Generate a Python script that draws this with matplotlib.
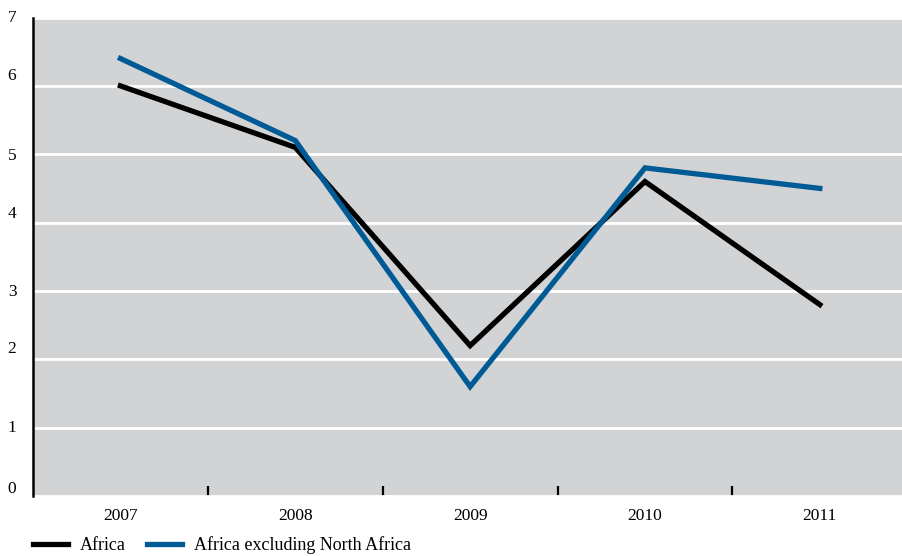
import numpy as np
import matplotlib
matplotlib.use('Agg')
import matplotlib.pyplot as plt
from matplotlib.transforms import ScaledTranslation

years = ["2007", "2008", "2009", "2010", "2011"]
africa = [6.0, 5.1, 2.2, 4.6, 2.8]
africa_ex_north = [6.4, 5.2, 1.6, 4.8, 4.5]
y_ticks = [0, 1, 2, 3, 4, 5, 6, 7]

plt.rcParams['font.family'] = ['Liberation Serif', 'DejaVu Serif']

fig = plt.figure(figsize=(9.02, 5.56), dpi=100)
ax = fig.add_axes([33 / 902, 1 - 496 / 556, 1 - 33 / 902, (496 - 17.5) / 556])
ax.set_facecolor("#d2d3d5")

x = np.arange(len(years))
ax.plot(x, africa, color="black", linewidth=3.8, label="Africa", solid_joinstyle="miter")
ax.plot(x, africa_ex_north, color="#005a96", linewidth=3.8,
        label="Africa excluding North Africa", solid_joinstyle="miter")

ax.set_ylim(0, 7)
ax.set_xlim(-0.5, len(years) - 0.53)
ax.set_yticks(y_ticks)
ax.set_yticklabels([str(v) for v in y_ticks])
ax.grid(True, axis="y", color="white", linewidth=2)
ax.set_axisbelow(True)

# year labels centred on categories, tick marks between them
ax.set_xticks(x)
ax.set_xticklabels(years)
ax.set_xticks(x[:-1] + 0.5, minor=True)
ax.tick_params(axis="x", which="major", length=0, pad=9, labelsize=12.5)
ax.tick_params(axis="x", which="minor", direction="in", length=7, width=1.6, color="black")
ax.tick_params(axis="y", length=0, pad=12, labelsize=12.5)

# y labels sit a bit uneven in the original
offsets = [-9, -2, -12, -1, -11, 0, -12, -2]
for lab, off in zip(ax.get_yticklabels(), offsets):
    lab.set_transform(lab.get_transform() + ScaledTranslation(0, -off / 100, fig.dpi_scale_trans))

for s in ["top", "right", "bottom"]:
    ax.spines[s].set_visible(False)
ax.spines["left"].set_linewidth(1.8)
ax.spines["left"].set_color("black")

fig.legend(loc="lower left", bbox_to_anchor=(33 / 902, 2 / 556), ncol=2, frameon=False,
           fontsize=13, handlelength=1.95, handletextpad=0.67, columnspacing=1.15,
           borderpad=0, borderaxespad=0)

fig.savefig("out.png", dpi=100)
